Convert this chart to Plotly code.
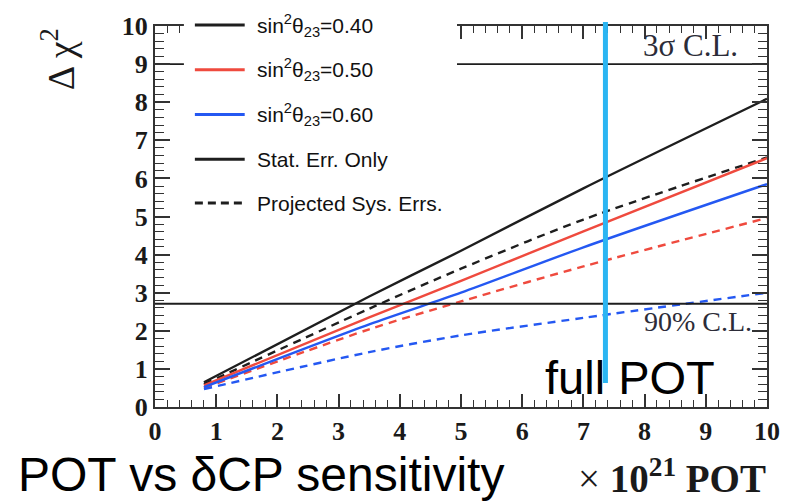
import plotly.graph_objects as go

# ---------------- data ----------------
pot = [0.8, 3.5, 5.0, 7.0, 10.0]          # x 10^21 POT

s040_stat = [0.65, 2.90, 4.10, 5.74, 8.09]
s040_sys = [0.60, 2.58, 3.63, 4.92, 6.55]
s050_stat = [0.57, 2.35, 3.31, 4.61, 6.53]
s050_sys = [0.50, 2.04, 2.77, 3.69, 4.96]
s060_stat = [0.52, 2.17, 3.00, 4.19, 5.85]
s060_sys = [0.47, 1.44, 1.88, 2.34, 3.00]

cl_levels = [9.0, 2.71]
cl_labels = ["3σ C.L.", "90% C.L."]
full_pot = 7.36
full_pot_bottom = 0.63

x_ticks = list(range(0, 11))
y_ticks = list(range(0, 11))

legend_labels = [
    "sin<sup>2</sup>θ<sub>23</sub>=0.40",
    "sin<sup>2</sup>θ<sub>23</sub>=0.50",
    "sin<sup>2</sup>θ<sub>23</sub>=0.60",
    "Stat. Err. Only",
    "Projected Sys. Errs.",
]

# ---------------- styles ----------------
BLACK = "#1e1e1e"
RED = "#ef4a3e"
BLUE = "#2458f2"
CYAN = "#2bb5f2"
DASH = "8px,6px"
LW = 2.4

W, H = 792, 502
L, R, T, B = 155, 769, 24, 407


def px(xp):
    return (xp - L) / (R - L)


def py(yp):
    return (B - yp) / (B - T)


fig = go.Figure()

series = [
    (s040_stat, BLACK, "solid"),
    (s040_sys, BLACK, DASH),
    (s050_stat, RED, "solid"),
    (s050_sys, RED, DASH),
    (s060_stat, BLUE, "solid"),
    (s060_sys, BLUE, DASH),
]
for ys, col, dash in series:
    fig.add_trace(go.Scatter(x=pot, y=ys, mode="lines",
                             line=dict(color=col, width=LW, dash=dash,
                                       shape="spline", smoothing=0.8),
                             showlegend=False, hoverinfo="skip"))

for lev in cl_levels:
    fig.add_trace(go.Scatter(x=[0, 10], y=[lev, lev], mode="lines",
                             line=dict(color=BLACK, width=1.8),
                             showlegend=False, hoverinfo="skip"))

shapes = []
# white legend box covering frame
shapes.append(dict(type="rect", xref="paper", yref="paper",
                   x0=px(184), x1=px(458), y0=py(218), y1=py(-5),
                   fillcolor="white", line=dict(width=0), layer="above"))
# legend samples
leg_rows = [23, 68, 113, 158, 202]
leg_styles = [(BLACK, "solid"), (RED, "solid"), (BLUE, "solid"),
              (BLACK, "solid"), (BLACK, "8px,5px")]
for yr, (col, dash) in zip(leg_rows, leg_styles):
    shapes.append(dict(type="line", xref="paper", yref="paper",
                       x0=px(195), x1=px(245), y0=py(yr), y1=py(yr),
                       line=dict(color=col, width=3, dash=dash), layer="above"))
# full POT marker line
shapes.append(dict(type="line", xref="x", yref="paper",
                   x0=full_pot, x1=full_pot,
                   y0=full_pot_bottom / 10.0, y1=py(20),
                   line=dict(color=CYAN, width=5), layer="above"))

annotations = []
for yr, lab in zip(leg_rows, legend_labels):
    annotations.append(dict(x=px(255), y=py(yr), xref="paper", yref="paper",
                            text=lab, showarrow=False, xanchor="left",
                            yanchor="middle",
                            font=dict(family="Liberation Sans", size=21,
                                      color="#111111")))

annotations.append(dict(x=px(692), y=py(44), xref="paper", yref="paper",
                        text=cl_labels[0], showarrow=False,
                        xanchor="center", yanchor="middle",
                        font=dict(family="Liberation Serif", size=31,
                                  color="#2c2c38")))
annotations.append(dict(x=px(700), y=py(321), xref="paper", yref="paper",
                        text=cl_labels[1], showarrow=False,
                        xanchor="center", yanchor="middle",
                        font=dict(family="Liberation Serif", size=28,
                                  color="#2c2c38")))
annotations.append(dict(x=px(632), y=py(377), xref="paper", yref="paper",
                        text="full POT", showarrow=False,
                        xanchor="center", yanchor="middle",
                        font=dict(family="Liberation Sans", size=47,
                                  color="black")))
annotations.append(dict(x=px(16), y=py(475), xref="paper", yref="paper",
                        text="POT vs δCP sensitivity", showarrow=False,
                        xanchor="left", yanchor="middle",
                        font=dict(family="Liberation Sans", size=48,
                                  color="black")))
annotations.append(dict(x=px(770), y=py(503), xref="paper", yref="paper",
                        text="× <b>10<sup>21</sup> POT</b>", showarrow=False,
                        xanchor="right", yanchor="bottom",
                        font=dict(family="Liberation Serif", size=39,
                                  color="#1a1a1a")))
annotations.append(dict(x=px(58), y=py(57), xref="paper", yref="paper",
                        text="Δ χ<sup>2</sup>", showarrow=False,
                        textangle=-90, xanchor="center", yanchor="middle",
                        font=dict(family="Liberation Serif", size=38,
                                  color="#1a1a1a")))

axis_common = dict(
    showgrid=False, zeroline=False, showline=True, linecolor="#333333",
    linewidth=2, mirror="ticks", ticks="inside", tickcolor="#333333",
    tickwidth=1.6,
    tickfont=dict(family="Liberation Serif", size=26, color="#1a1a1a",
                  weight="bold"),
)

fig.update_layout(
    width=W, height=H,
    margin=dict(l=L, r=W - R, t=T, b=H - B),
    paper_bgcolor="white", plot_bgcolor="white",
    showlegend=False,
    xaxis=dict(range=[0, 10], tickvals=x_ticks, ticklen=13,
               minor=dict(dtick=0.2, ticklen=7, ticks="inside",
                          tickcolor="#333333", tickwidth=1.4),
               **axis_common),
    yaxis=dict(range=[0, 10], tickvals=y_ticks, ticklen=15,
               minor=dict(dtick=0.2, ticklen=9, ticks="inside",
                          tickcolor="#333333", tickwidth=1.4),
               **axis_common),
    shapes=shapes,
    annotations=annotations,
)

fig.write_html("out.html")
